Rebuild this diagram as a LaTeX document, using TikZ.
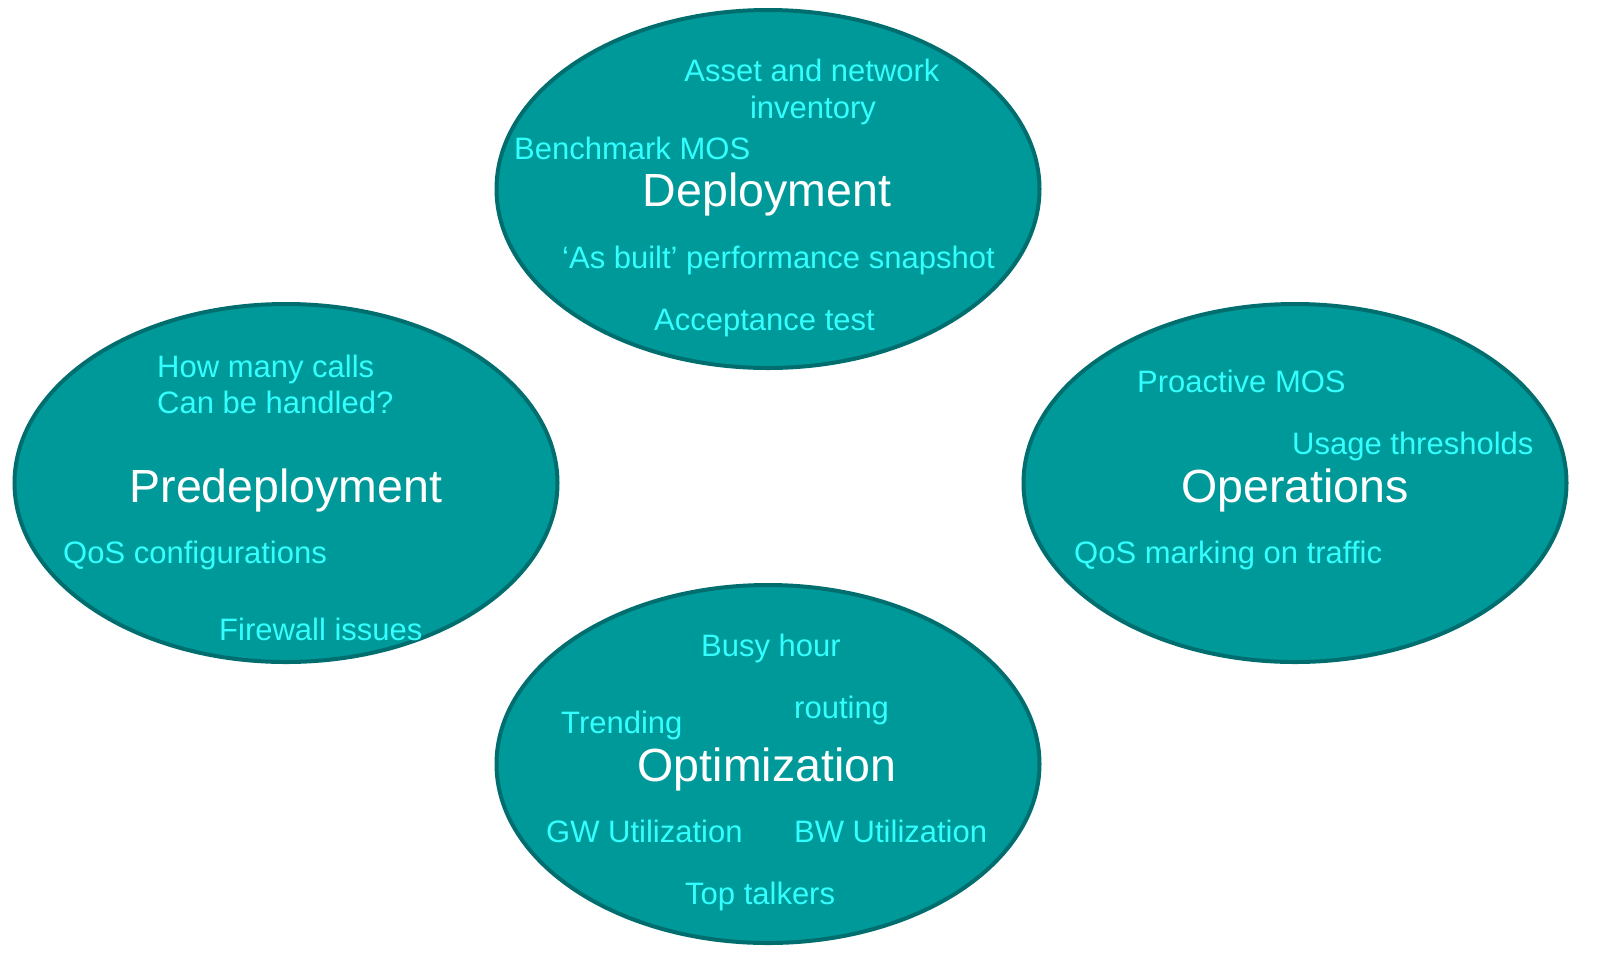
\documentclass[tikz,border=0pt]{standalone}
\usepackage{fontspec}
\setmainfont{Liberation Sans}
\usetikzlibrary{shapes.geometric}
\definecolor{tealfill}{HTML}{009999}
\definecolor{tealedge}{HTML}{006E6E}
\definecolor{lbl}{HTML}{33FFFF}
\tikzset{
  phase/.style={ellipse, draw=tealedge, fill=tealfill, line width=4pt, minimum width=543pt, minimum height=358pt, inner sep=0pt},
  title/.style={text=white, font=\fontsize{46.5}{54}\selectfont, inner sep=0pt, anchor=base},
  item/.style={text=lbl, font=\fontsize{31}{37}\selectfont, inner sep=0pt, anchor=base west},
  itemc/.style={text=lbl, font=\fontsize{31}{37}\selectfont, inner sep=0pt, anchor=base, align=center},
}
\begin{document}
\begin{tikzpicture}[x=1pt,y=-1pt]
\useasboundingbox (0,0) rectangle (1614,970);
\node[phase] (dep) at (768,189) {};
\node[phase] (pre) at (286,483) {};
\node[phase] (ops) at (1295,483) {};
\node[phase] (opt) at (768,764) {};
% Deployment
\node[title] (depT) at (767,206) {Deployment};
\node[itemc] (asset) at (812,81) {Asset and network};
\node[itemc] (inv) at (813,118) {inventory};
\node[item] (bench) at (514,159) {Benchmark MOS};
\node[item] (asbuilt) at (562,268) {‘As built’ performance snapshot};
\node[item] (accept) at (654,330) {Acceptance test};
% Predeployment
\node[title] (preT) at (286,502) {Predeployment};
\node[item] (calls) at (157,377) {How many calls};
\node[item] (handled) at (157,413) {Can be handled?};
\node[item] (qoscfg) at (63,563) {QoS configurations};
\node[item] (fw) at (219,640) {Firewall issues};
% Operations
\node[title] (opsT) at (1295,502) {Operations};
\node[item] (pmos) at (1137,392) {Proactive MOS};
\node[item] (usage) at (1292,454) {Usage thresholds};
\node[item] (qosmark) at (1074,563) {QoS marking on traffic};
% Optimization
\node[title] (optT) at (767,781) {Optimization};
\node[item] (busy) at (701,656) {Busy hour};
\node[item] (routing) at (794,718) {routing};
\node[item] (trend) at (561,733) {Trending};
\node[item] (gw) at (546,842) {GW Utilization};
\node[item] (bw) at (794,842) {BW Utilization};
\node[item] (top) at (685,904) {Top talkers};
\end{tikzpicture}
\end{document}
